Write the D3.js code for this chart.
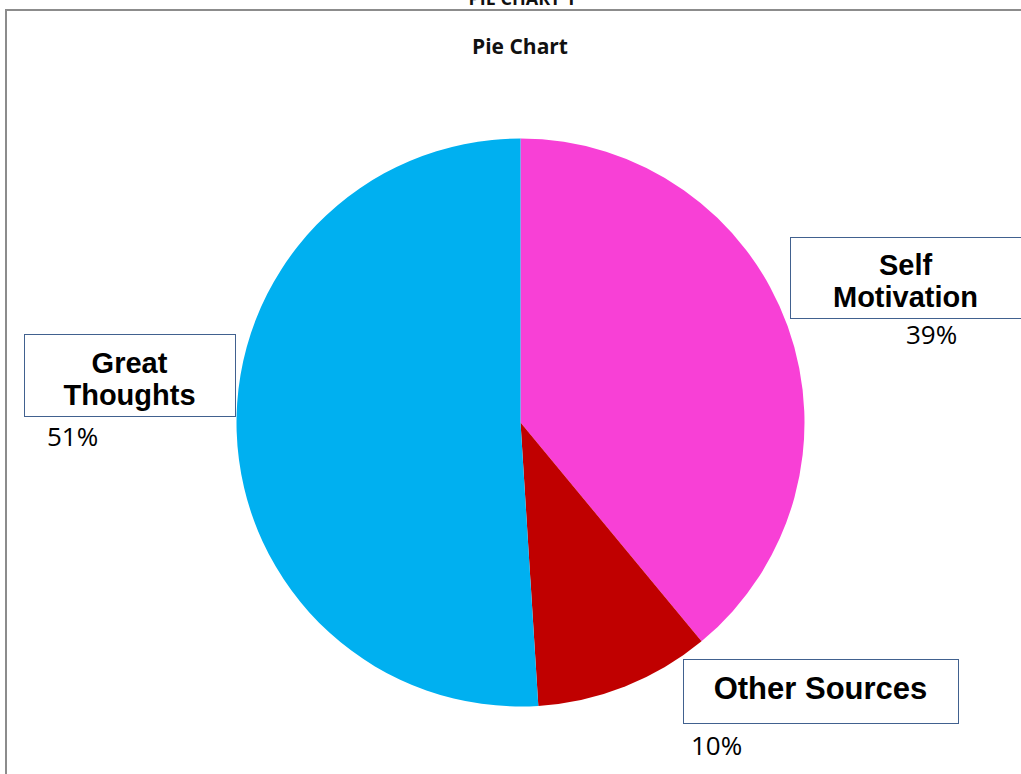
<!DOCTYPE html>
<html>
<head>
<meta charset="utf-8">
<script src="https://cdn.jsdelivr.net/npm/d3@7"></script>
<style>
  html, body { margin: 0; padding: 0; background: #fff; }
  svg { display: block; }
</style>
</head>
<body>
<svg id="chart" width="1021" height="774"></svg>
<script>
// ---- data ----
const categories = ["Self Motivation", "Other Sources", "Great Thoughts"];
const values = [39, 10, 51];
const percentLabels = ["39%", "10%", "51%"];
const labelLines = [["Self", "Motivation"], ["Other Sources"], ["Great", "Thoughts"]];
const colors = ["#F840D6", "#C00000", "#00B0F0"];

// ---- layout (not data) ----
const W = 1021, H = 774;
const cx = 520.5, cy = 422.5, R = 284;
const boxes = [
  { x: 790, y: 237, w: 231, h: 81, fs: 29, lh: 32, firstBase: 275, pctX: 906, pctY: 344 },
  { x: 683, y: 659, w: 275, h: 64, fs: 31, lh: 0, firstBase: 699, pctX: 691, pctY: 755 },
  { x: 24, y: 334, w: 211, h: 82, fs: 29, lh: 32, firstBase: 373, pctX: 47, pctY: 446 }
];

const svg = d3.select("#chart");

// frame
svg.append("line").attr("x1", 6).attr("y1", 10).attr("x2", W).attr("y2", 10)
  .attr("stroke", "#8c8c8c").attr("stroke-width", 2);
svg.append("line").attr("x1", 6).attr("y1", 9).attr("x2", 6).attr("y2", H)
  .attr("stroke", "#8c8c8c").attr("stroke-width", 2);

// titles (top title is partially clipped in the reference)
svg.append("text").attr("x", 522).attr("y", 5).attr("text-anchor", "middle")
  .attr("font-family", "'Open Sans', sans-serif").attr("font-weight", "bold")
  .attr("font-size", 18).attr("fill", "#111").text("PIE CHART 1");
svg.append("text").attr("x", 520).attr("y", 54).attr("text-anchor", "middle")
  .attr("font-family", "'Open Sans', sans-serif").attr("font-weight", "bold")
  .attr("font-size", 21).attr("fill", "#111").text("Pie Chart");

// pie
const pie = d3.pie().sort(null).value(d => d).startAngle(0).endAngle(2 * Math.PI);
const arc = d3.arc().innerRadius(0).outerRadius(R);
const arcs = pie(values);

const g = svg.append("g").attr("transform", `translate(${cx},${cy})`);
g.selectAll("path").data(arcs).join("path")
  .attr("d", arc)
  .attr("fill", (d, i) => colors[i]);

// labels
arcs.forEach((a, i) => {
  const b = boxes[i];
  svg.append("rect").attr("x", b.x + 0.5).attr("y", b.y + 0.5)
    .attr("width", b.w).attr("height", b.h)
    .attr("fill", "#fff").attr("stroke", "#41618f").attr("stroke-width", 1);
  labelLines[i].forEach((ln, j) => {
    svg.append("text").attr("x", b.x + b.w / 2).attr("y", b.firstBase + j * b.lh)
      .attr("text-anchor", "middle")
      .attr("font-family", "'Liberation Sans', Arial, sans-serif")
      .attr("font-weight", "bold").attr("font-size", b.fs).attr("fill", "#000")
      .text(ln);
  });
  svg.append("text").attr("x", b.pctX).attr("y", b.pctY)
    .attr("font-family", "'Open Sans', sans-serif")
    .attr("font-size", 26).attr("fill", "#000")
    .text(percentLabels[i]);
});
</script>
</body>
</html>
